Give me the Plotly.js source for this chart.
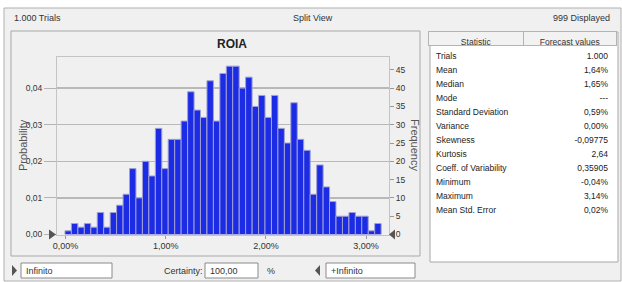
<!DOCTYPE html>
<html>
<head>
<meta charset="utf-8">
<script src="https://cdn.plot.ly/plotly-3.0.1.min.js"></script>
<style>
html,body{margin:0;padding:0;background:#fff;}
#chart{width:622px;height:282px;}
</style>
</head>
<body>
<div id="chart"></div>
<script>
// ---- data ----
var binCenters = [0.027,0.091,0.156,0.220,0.285,0.349,0.413,0.478,0.542,0.607,
  0.671,0.735,0.800,0.864,0.929,0.993,1.057,1.122,1.186,1.251,
  1.315,1.379,1.444,1.508,1.573,1.637,1.701,1.766,1.830,1.895,
  1.959,2.023,2.088,2.152,2.217,2.281,2.345,2.410,2.474,2.539,
  2.603,2.667,2.732,2.796,2.861,2.925,2.989,3.054,3.118];
var frequency = [1,3,2,3,2,6,2,6,8,11,
  18,10,20,16,29,18,26,26,31,39,
  34,32,42,31,44,46,46,40,43,35,
  38,32,38,29,25,36,26,23,11,19,
  13,9,5,5,6,5,5,1,3];
var xTicks = [0,1,2,3];
var xTickLabels = ['0,00%','1,00%','2,00%','3,00%'];
var probTicks = [0,0.01,0.02,0.03,0.04];
var probTickLabels = ['0,00','0,01','0,02','0,03','0,04'];
var freqTicks = [0,5,10,15,20,25,30,35,40,45];
var statNames = ['Trials','Mean','Median','Mode','Standard Deviation','Variance','Skewness','Kurtosis','Coeff. of Variability','Minimum','Maximum','Mean Std. Error'];
var statValues = ['1.000','1,64%','1,65%','---','0,59%','0,00%','-0,09775','2,64','0,35905','-0,04%','3,14%','0,02%'];
var trials = 1000;

// ---- helpers (pixel -> paper) ----
var W = 622, H = 282;
function px(x){return x/W;}
function py(y){return 1 - y/H;}
function rect(x0,y0,x1,y1,fill,line){
  return {type:'rect',xref:'paper',yref:'paper',x0:px(x0),x1:px(x1),y0:py(y1),y1:py(y0),
    fillcolor:fill,line:{color:line||'rgba(0,0,0,0)',width:line?1:0},layer:'below'};
}
function tri(points,color){
  var d = points.map(function(p,i){return (i?'L':'M')+px(p[0])+','+py(p[1]);}).join(' ')+' Z';
  return {type:'path',xref:'paper',yref:'paper',path:d,fillcolor:color,line:{width:0},layer:'above'};
}
var font = 'Liberation Sans, Arial, sans-serif';
function txt(x,y,t,opts){
  opts = opts||{};
  return Object.assign({xref:'paper',yref:'paper',x:px(x),y:py(y),text:t,showarrow:false,
    xanchor:'left',yanchor:'middle',font:{family:font,size:9,color:'#333'}},opts);
}

var freqMax = 48.5;

var traces = [
  {type:'scatter',x:[],y:[],xaxis:'x',yaxis:'y',showlegend:false,hoverinfo:'skip'},
  {type:'bar',x:binCenters,y:frequency,xaxis:'x',yaxis:'y2',width:0.0644,
   marker:{color:'#1c2be4',line:{color:'#a0a0d4',width:1}},showlegend:false},
  {type:'table',domain:{x:[px(428),px(617)],y:[py(218),py(31)]},
   columnwidth:[96,93],
   header:{values:['Statistic','Forecast values'],align:['center','center'],height:14,
     fill:{color:'#f2f2f2'},line:{color:'#b4b4b4',width:1},
     font:{family:font,size:8.5,color:'#333'}},
   cells:{values:[statNames,statValues],align:['left','right'],height:14,
     fill:{color:'rgba(255,255,255,0)'},line:{color:'rgba(255,255,255,0)',width:0},
     font:{family:font,size:8.5,color:'#222'}}}
];

var shapes = [
  rect(4,8,621,281,'#f0f0f0','#b0b0b0'),
  rect(11,31,420,256,'#f0f0f0','#a8a8a8'),
  rect(430,32,618,262,'#ffffff','#a8a8a8'),
  rect(21,263,112,278,'#ffffff','#8a8a8a'),
  rect(205,263,258,278,'#ffffff','#8a8a8a'),
  rect(326,263,415,278,'#ffffff','#8a8a8a'),
  tri([[49,229.5],[56,234.5],[49,239.5]],'#555555'),
  tri([[395,229.5],[389,234.5],[395,239.5]],'#555555'),
  tri([[12,265],[17,270.5],[12,276]],'#555555'),
  tri([[320,265],[315,270.5],[320,276]],'#555555')
];

var annotations = [
  txt(12,18,'1.000 Trials'),
  txt(313,18,'Split View',{xanchor:'center'}),
  txt(612,18,'999 Displayed',{xanchor:'right'}),
  txt(232,44,'<b>ROIA</b>',{xanchor:'center',font:{family:font,size:12,color:'#222'}}),
  txt(23,145,'Probability',{xanchor:'center',textangle:-90,font:{family:font,size:11,color:'#555'}}),
  txt(415,145,'Frequency',{xanchor:'center',textangle:90,font:{family:font,size:11,color:'#555'}}),
  txt(24,270.5,'Infinito'),
  txt(162,270.5,'Certainty:'),
  txt(208,270.5,'100,00'),
  txt(265,270.5,'%'),
  txt(329,270.5,'+Infinito')
];

var layout = {
  width:W,height:H,margin:{l:0,r:0,t:0,b:0},
  paper_bgcolor:'#ffffff',plot_bgcolor:'#fdfdf0',
  separators:',.',
  showlegend:false,
  bargap:0,
  font:{family:font,size:9,color:'#333'},
  xaxis:{domain:[px(57),px(389)],range:[-0.0848,3.2285],tickvals:xTicks,ticktext:xTickLabels,
    ticks:'outside',ticklen:3,tickcolor:'#999',
    showgrid:false,zeroline:false,showline:true,mirror:true,linecolor:'#c4c4c4',linewidth:1,
    tickfont:{family:font,size:9,color:'#333'},fixedrange:true},
  yaxis:{domain:[py(234.5),py(57)],range:[0,freqMax/trials],tickvals:probTicks,ticktext:probTickLabels,
    ticks:'outside',ticklen:12,tickcolor:'#b4b4b4',
    showgrid:true,gridcolor:'#b8b8b8',gridwidth:1.5,zeroline:false,
    showline:true,mirror:true,linecolor:'#c4c4c4',linewidth:1,
    tickfont:{family:font,size:8.5,color:'#333'},fixedrange:true},
  yaxis2:{overlaying:'y',side:'right',anchor:'x',range:[0,freqMax],tickvals:freqTicks,
    ticks:'outside',ticklen:4,tickcolor:'#999',showgrid:false,zeroline:false,
    tickfont:{family:font,size:8.5,color:'#333'},fixedrange:true},
  shapes:shapes,
  annotations:annotations
};

Plotly.newPlot('chart',traces,layout,{staticPlot:true,displayModeBar:false});
</script>
</body>
</html>
